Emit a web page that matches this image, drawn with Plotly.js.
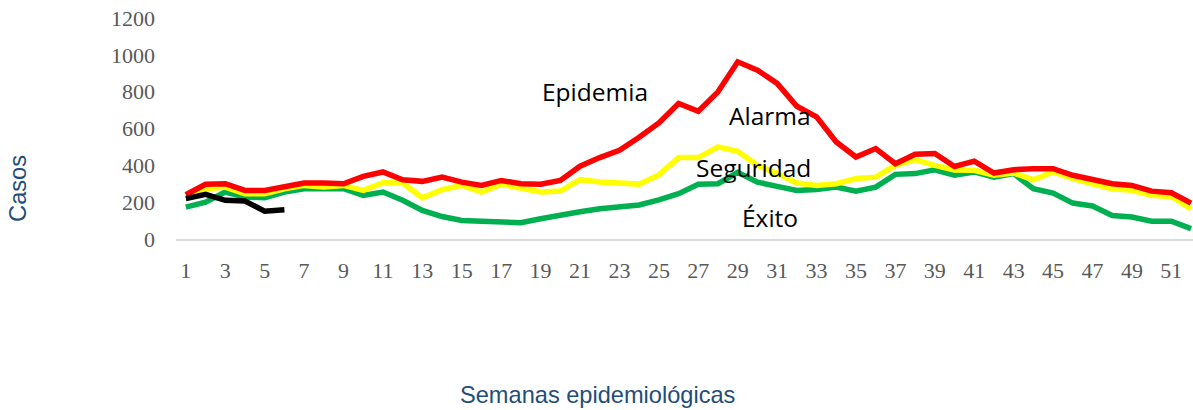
<!DOCTYPE html>
<html>
<head>
<meta charset="utf-8">
<script src="https://cdn.plot.ly/plotly-3.0.1.min.js"></script>
<style>html,body{margin:0;padding:0;background:#fff;overflow:hidden;}#chart{width:1193px;height:410px;}</style>
</head>
<body>
<div id="chart"></div>
<script>
const weeks = Array.from({length: 52}, (_, i) => i + 1);
const tickWeeks = [1,3,5,7,9,11,13,15,17,19,21,23,25,27,29,31,33,35,37,39,41,43,45,47,49,51];
const tickLabels = tickWeeks.map(String);

const exito = [173,200,255,228,224,255,273,273,273,237,
               255,210,155,122,101,97,91,88,110,132,
               148,164,173,185,212,246,297,300,362,309,
               286,264,269,282,260,282,351,355,376,346,
               364,336,355,273,249,195,179,128,119,97,
               97,56];
const seguridad = [228,273,282,246,246,273,291,282,291,264,
                   306,304,224,268,291,255,297,273,255,260,
                   322,309,305,298,348,442,442,500,476,400,
                   355,304,291,300,328,336,400,431,400,375,
                   373,346,358,322,364,328,300,273,264,237,
                   231,164];
const alarma = [240,297,300,264,264,286,304,304,300,340,
                364,322,313,336,309,291,318,300,297,318,
                395,442,482,552,630,736,694,799,962,917,
                845,721,663,527,445,491,409,460,464,394,
                423,358,376,382,382,346,324,300,291,260,
                251,195];
const actualWeeks = [1,2,3,4,5,6];
const actual = [219,242,210,206,151,159];

const zoneLabels = ["Epidemia", "Alarma", "Seguridad", "Éxito"];
const xTitle = "Semanas epidemiológicas";
const yTitle = "Casos";

const lineW = 5.5;
const traces = [
  {x: weeks, y: exito, name: "Éxito", type: "scatter", mode: "lines", line: {color: "#00B050", width: lineW}},
  {x: weeks, y: seguridad, name: "Seguridad", type: "scatter", mode: "lines", line: {color: "#FFFF00", width: lineW}},
  {x: weeks, y: alarma, name: "Alarma", type: "scatter", mode: "lines", line: {color: "#FF0000", width: lineW}},
  {x: actualWeeks, y: actual, name: "Casos", type: "scatter", mode: "lines", line: {color: "#000000", width: lineW}}
];

const annFont = {family: "Open Sans, Noto Sans, sans-serif", size: 24.5, color: "#000000"};
const titleFont = {family: "Liberation Sans, Arial, sans-serif", size: 23.6, color: "#1F4E79"};
const tickFont = {family: "Liberation Serif, Times New Roman, serif", size: 22, color: "#595959"};
const layout = {
  width: 1193, height: 410,
  margin: {l: 176, r: 0, t: 18, b: 171, pad: 0},
  paper_bgcolor: "#ffffff", plot_bgcolor: "#ffffff",
  showlegend: false,
  xaxis: {
    range: [0.5, 52.1],
    tickmode: "array", tickvals: tickWeeks, ticktext: tickLabels,
    showgrid: false, zeroline: false,
    showline: true, linecolor: "#D9D9D9", linewidth: 2,
    ticks: "", ticklabelstandoff: 11,
    tickfont: tickFont
  },
  yaxis: {
    range: [0, 1200], dtick: 200,
    showgrid: false, zeroline: false, showline: false,
    ticks: "", ticklabelstandoff: 20,
    tickfont: tickFont
  },
  annotations: [
    {x: 21.75, y: 803, xref: "x", yref: "y", text: zoneLabels[0], showarrow: false, xanchor: "center", yanchor: "middle", font: annFont},
    {x: 30.63, y: 672, xref: "x", yref: "y", text: zoneLabels[1], showarrow: false, xanchor: "center", yanchor: "middle", font: annFont},
    {x: 29.82, y: 389, xref: "x", yref: "y", text: zoneLabels[2], showarrow: false, xanchor: "center", yanchor: "middle", font: annFont},
    {x: 30.63, y: 117, xref: "x", yref: "y", text: zoneLabels[3], showarrow: false, xanchor: "center", yanchor: "middle", font: annFont},
    {x: 0.414, y: -0.708, xref: "paper", yref: "paper", text: xTitle, showarrow: false, xanchor: "center", yanchor: "middle", font: titleFont},
    {x: -0.1554, y: 0.231, xref: "paper", yref: "paper", text: yTitle, showarrow: false, textangle: -90, xanchor: "center", yanchor: "middle", font: titleFont}
  ]
};

Plotly.newPlot("chart", traces, layout, {displayModeBar: false, staticPlot: true});
</script>
</body>
</html>
